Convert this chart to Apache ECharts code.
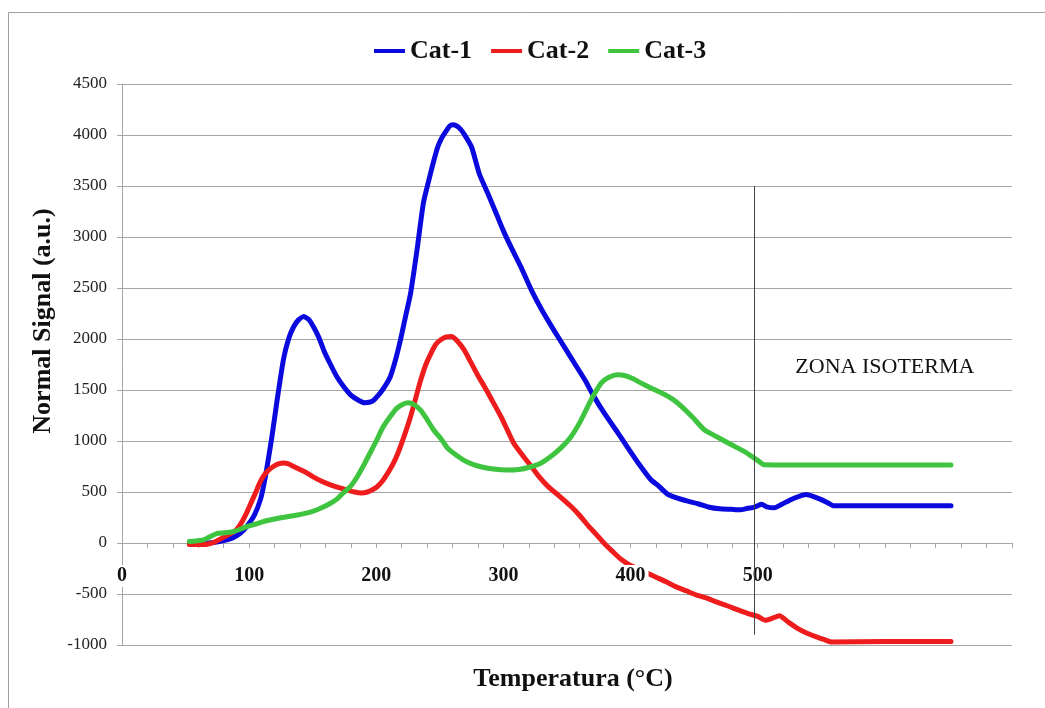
<!DOCTYPE html>
<html>
<head>
<meta charset="utf-8">
<title>Normal Signal vs Temperatura</title>
<script src="https://cdn.jsdelivr.net/npm/echarts@6/dist/echarts.min.js"></script>
<style>
  html, body { margin: 0; padding: 0; background: #fff; }
  #chart { width: 1045px; height: 708px; }
</style>
</head>
<body>
<div id="chart"></div>
<script>
// Temperature readings (°C) and normalised signal (a.u.) for each catalyst
var cat1Temp = [53, 62, 72, 80, 87, 93, 98, 104, 109, 112, 115, 118, 122, 127, 131, 135, 139, 143, 147, 151, 155, 159, 164, 169, 174, 180, 186, 191, 197, 203, 207, 211, 215, 219, 223, 227, 232, 237, 241, 244, 248, 251, 255, 258, 260, 263, 266, 269, 275, 281, 288, 295, 300, 306, 314, 322, 330, 340, 348, 356, 364, 371, 380, 390, 398, 406, 416, 422, 429, 437, 445, 453, 462, 470, 479, 486, 492, 497, 500, 503, 507, 513, 519, 526, 532, 538, 544, 550, 555, 560, 600, 652];
var cat1Signal = [-10, -5, 5, 25, 50, 95, 160, 270, 430, 600, 815, 1050, 1400, 1800, 2000, 2120, 2190, 2220, 2190, 2110, 2010, 1880, 1750, 1630, 1540, 1450, 1400, 1375, 1390, 1470, 1540, 1630, 1790, 1990, 2220, 2450, 2870, 3330, 3540, 3690, 3870, 3960, 4040, 4090, 4100, 4090, 4060, 4010, 3880, 3620, 3420, 3210, 3060, 2900, 2700, 2480, 2290, 2080, 1920, 1760, 1600, 1440, 1260, 1080, 930, 785, 620, 560, 480, 440, 410, 385, 350, 335, 330, 325, 340, 350, 365, 380, 355, 345, 380, 425, 455, 475, 455, 425, 395, 365, 365, 365];

var cat2Temp = [53, 60, 67, 73, 79, 85, 90, 94, 98, 101, 105, 108, 111, 115, 119, 123, 127, 131, 135, 140, 145, 150, 157, 164, 170, 177, 183, 188, 193, 198, 201, 205, 209, 213, 217, 222, 227, 231, 235, 239, 243, 247, 251, 255, 259, 263, 269, 274, 280, 285, 291, 298, 303, 308, 315, 322, 328, 335, 344, 353, 360, 367, 373, 379, 386, 393, 400, 407, 413, 420, 428, 435, 444, 452, 460, 468, 476, 484, 492, 500, 506, 511, 517, 524, 531, 538, 545, 552, 558, 600, 652];
var cat2Signal = [-15, -15, -12, 10, 50, 90, 130, 200, 295, 380, 490, 580, 650, 710, 750, 775, 785, 775, 750, 720, 690, 650, 605, 570, 545, 520, 500, 490, 500, 530, 555, 610, 685, 770, 880, 1050, 1240, 1420, 1600, 1750, 1860, 1950, 1995, 2020, 2025, 1990, 1895, 1780, 1640, 1535, 1400, 1240, 1110, 980, 860, 750, 650, 555, 460, 360, 270, 165, 85, 0, -85, -165, -220, -255, -294, -335, -380, -425, -470, -510, -540, -580, -615, -654, -690, -720, -758, -740, -713, -775, -834, -880, -915, -945, -971, -965, -965];

var cat3Temp = [53, 58, 64, 69, 75, 81, 87, 93, 98, 105, 111, 118, 124, 131, 138, 144, 150, 157, 164, 169, 174, 180, 185, 190, 195, 200, 205, 211, 216, 221, 225, 230, 235, 240, 245, 251, 256, 262, 269, 276, 283, 292, 303, 312, 321, 329, 337, 345, 353, 360, 366, 371, 377, 383, 390, 396, 402, 408, 416, 426, 433, 440, 449, 458, 468, 479, 489, 497, 501, 505, 560, 652];
var cat3Signal = [15, 20, 30, 60, 95, 100, 110, 135, 160, 185, 210, 230, 245, 260, 275, 290, 310, 345, 390, 430, 490, 560, 650, 760, 880, 1000, 1130, 1240, 1320, 1360, 1375, 1355, 1300, 1210, 1110, 1020, 930, 870, 810, 770, 745, 725, 715, 720, 745, 780, 845, 930, 1040, 1180, 1330, 1450, 1570, 1625, 1650, 1640, 1610, 1570, 1520, 1460, 1410, 1340, 1230, 1110, 1040, 965, 900, 835, 800, 768, 765, 765];

var seriesNames = ['Cat-1', 'Cat-2', 'Cat-3'];
var seriesColors = ['#0a0ade', '#ee1c1c', '#3ec43e'];
var xTickLabels = ['0', '100', '200', '300', '400', '500'];

// isothermal boundary and its caption
var isoTemp = 497;
var isoLineRange = [3500, -900];
var isoCaption = 'ZONA ISOTERMA';
var isoCaptionAt = [600, 1725];

function zip(xs, ys) {
  return xs.map(function (x, i) { return [x, ys[i]]; });
}

var serif = "'Liberation Serif', 'Times New Roman', 'DejaVu Serif', serif";
var gridGray = '#a6a6a6';

var W = 1045, H = 708;
var gridBox = { left: 122, right: 33, top: 84, bottom: 63 };
var yRange = { min: -1000, max: 4500, interval: 500 };
// distance from the bottom of the plot up to the zero line
var zeroLift = (H - gridBox.top - gridBox.bottom) * (0 - yRange.min) / (yRange.max - yRange.min);

var chart = echarts.init(document.getElementById('chart'), null, { renderer: 'canvas' });

var temps = [cat1Temp, cat2Temp, cat3Temp];
var signals = [cat1Signal, cat2Signal, cat3Signal];

var series = seriesNames.map(function (name, i) {
  var s = {
    name: name,
    type: 'line',
    data: zip(temps[i], signals[i]),
    symbol: 'none',
    smooth: 0.2,
    color: seriesColors[i],
    lineStyle: { width: 5, color: seriesColors[i], cap: 'round', join: 'round' },
    z: 3
  };
  if (i === 0) {
    s.markLine = {
      silent: true,
      z: 6,
      symbol: ['none', 'none'],
      label: { show: false },
      lineStyle: { color: '#444', width: 1, type: 'solid' },
      data: [[{ coord: [isoTemp, isoLineRange[0]] }, { coord: [isoTemp, isoLineRange[1]] }]]
    };
    s.markPoint = {
      silent: true,
      symbol: 'rect',
      symbolSize: 1,
      itemStyle: { color: 'rgba(0,0,0,0)' },
      label: {
        show: true,
        position: 'inside',
        formatter: isoCaption,
        color: '#111',
        fontFamily: serif,
        fontSize: 22
      },
      data: [{ coord: isoCaptionAt }]
    };
  }
  return s;
});

var option = {
  animation: false,
  backgroundColor: '#ffffff',
  textStyle: { fontFamily: serif },
  legend: {
    data: seriesNames,
    icon: 'rect',
    left: 369,
    top: 33,
    itemWidth: 31,
    itemHeight: 4,
    itemGap: 19,
    textStyle: { fontFamily: serif, fontWeight: 'bold', fontSize: 26, color: '#111' }
  },
  grid: { left: gridBox.left, right: gridBox.right, top: gridBox.top, bottom: gridBox.bottom, containLabel: false },
  xAxis: [
    {
      type: 'value',
      min: 0,
      max: 700,
      interval: 20,
      axisLine: { show: true, onZero: true, lineStyle: { color: gridGray, width: 1 } },
      axisTick: { show: true, inside: false, length: 5, lineStyle: { color: gridGray } },
      axisLabel: { show: false },
      splitLine: { show: false }
    },
    {
      // tick labels drawn above the curves on a white box, lifted to the zero line
      type: 'value',
      position: 'bottom',
      offset: -zeroLift,
      min: 0,
      max: 700,
      interval: 100,
      z: 4,
      axisLine: { show: false, onZero: false },
      axisTick: { show: false },
      splitLine: { show: false },
      axisLabel: {
        show: true,
        margin: 22,
        fontFamily: serif,
        fontWeight: 'bold',
        fontSize: 20,
        color: '#111',
        backgroundColor: '#ffffff',
        padding: [1, 3, 1, 3],
        formatter: function (v) {
          var lbl = xTickLabels[Math.round(v / 100)];
          return lbl === undefined ? '' : lbl;
        }
      }
    }
  ],
  yAxis: {
    type: 'value',
    min: yRange.min,
    max: yRange.max,
    interval: yRange.interval,
    axisLine: { show: true, lineStyle: { color: gridGray, width: 1 } },
    axisTick: { show: true, length: 5, lineStyle: { color: gridGray } },
    axisLabel: {
      margin: 15,
      fontFamily: serif,
      fontSize: 17,
      color: '#222',
      formatter: function (v) { return String(v); }
    },
    splitLine: { show: true, lineStyle: { color: gridGray, width: 1 } }
  },
  graphic: [
    {
      type: 'rect',
      silent: true,
      z: -1,
      shape: { x: 8.5, y: 12.5, width: 1200, height: 800 },
      style: { fill: 'none', stroke: '#a0a0a0', lineWidth: 1 }
    },
    {
      type: 'text',
      silent: true,
      x: 573,
      y: 679,
      style: {
        text: 'Temperatura (°C)',
        font: 'bold 26px ' + serif,
        fill: '#111',
        align: 'center',
        verticalAlign: 'middle'
      }
    },
    {
      type: 'text',
      silent: true,
      x: 43,
      y: 321,
      rotation: Math.PI / 2,
      style: {
        text: 'Normal Signal (a.u.)',
        font: 'bold 26px ' + serif,
        fill: '#111',
        align: 'center',
        verticalAlign: 'middle'
      }
    }
  ],
  series: series
};

chart.setOption(option);
</script>
</body>
</html>
